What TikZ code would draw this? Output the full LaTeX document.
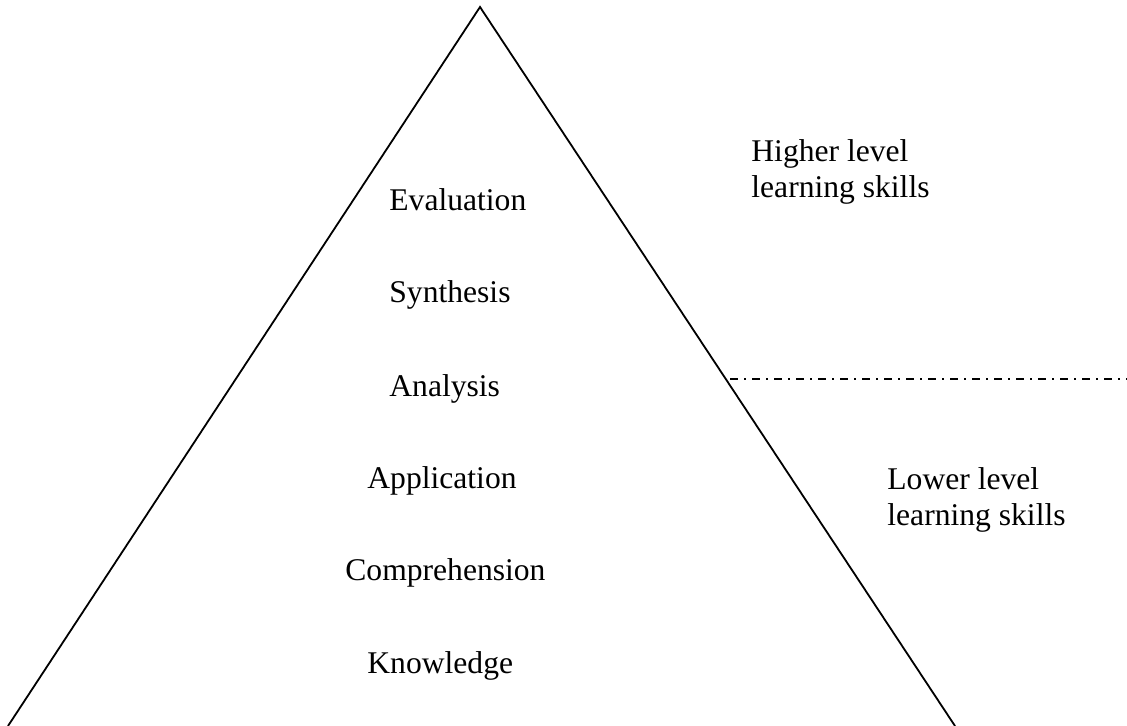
\documentclass[tikz,border=0pt]{standalone}
\usepackage{fontspec}
\setmainfont{Liberation Serif}

\begin{document}
\begin{tikzpicture}[x=0.5pt, y=-0.5pt,
  level/.style={anchor=base west, inner sep=0pt, font=\fontsize{15.8}{18}\selectfont},
  skills/.style={level, align=left}]
\useasboundingbox (0,0) rectangle (1127,726);
\coordinate (apex) at (480,7);
\coordinate (baseL) at (8,726);
\coordinate (baseR) at (955,726);
\coordinate (cutL) at (730,379);
\coordinate (cutR) at (1127,379);
\draw[line width=0.9pt] (baseL) -- (apex) -- (baseR);
\draw[line width=0.9pt, dash pattern=on 4pt off 3pt on 1pt off 3pt] (cutL) -- (cutR);
\node[level] (eval) at (389,211) {Evaluation};
\node[level] (synt) at (389,303) {Synthesis};
\node[level] (anal) at (389,396) {Analysis};
\node[level] (appl) at (367,488) {Application};
\node[level] (comp) at (345,580) {Comprehension};
\node[level] (know) at (367,673) {Knowledge};
\node[skills] (high) at (751,198) {Higher level\\learning skills};
\node[skills] (low) at (887,525) {Lower level\\learning skills};
\end{tikzpicture}
\end{document}
